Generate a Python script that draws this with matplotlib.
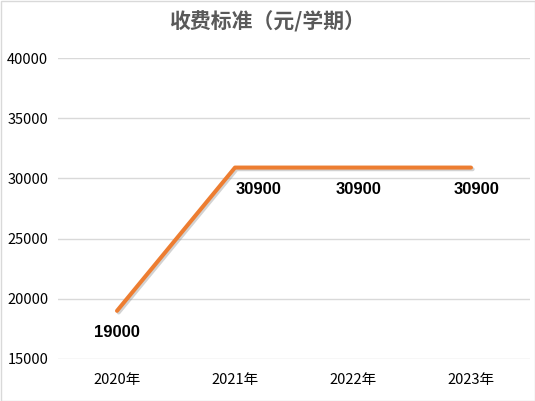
import matplotlib
matplotlib.use("Agg")
import matplotlib.pyplot as plt
import matplotlib.patheffects as pe
from matplotlib.patches import Rectangle

plt.rcParams['font.family'] = ['Noto Sans CJK SC', 'DejaVu Sans']

# data
years = ['2020年', '2021年', '2022年', '2023年']
fees = [19000, 30900, 30900, 30900]
title = '收费标准（元/学期）'

# label nudges (points), as placed in the original
label_dx = [0, 17, 4, 4]

fig = plt.figure(figsize=(5.35, 4.01), dpi=100)
ax = fig.add_axes([58/535, 1-359/401, 472/535, 301/401])

x = range(len(years))
ax.plot(x, fees, color='#ED7D31', lw=2.9, solid_capstyle='round',
        path_effects=[pe.SimpleLineShadow(offset=(1.2, -1.2), shadow_color='gray', alpha=0.35),
                      pe.Normal()])

for i, v in enumerate(fees):
    ax.annotate(str(v), (i, v), xytext=(label_dx[i], -15.5), textcoords='offset points',
                ha='center', va='center', fontsize=12, fontweight='bold', color='black',
                family=['Liberation Sans'])

ax.set_xlim(-0.5, len(years)-0.5)
ax.set_ylim(15000, 40000)
ax.set_yticks(range(15000, 40001, 5000))
ax.set_xticks(list(x))
ax.set_xticklabels(years)
ax.grid(axis='y', color='#D9D9D9', lw=1)
ax.set_axisbelow(True)
for s in ax.spines.values():
    s.set_visible(False)
ax.tick_params(length=0, labelsize=10.5, colors='#000000')
ax.tick_params(axis='y', pad=7)
ax.tick_params(axis='x', pad=10)

fig.text(0.5, 1-22/401, title, ha='center', va='center', fontsize=15,
         fontweight='bold', color='#595959')

fig.patches.append(Rectangle((0.5/535, 0.5/401), 1-1/535, 1-1/401, transform=fig.transFigure,
                             fill=False, edgecolor='#D9D9D9', lw=1))

fig.savefig('out.png', dpi=100)
